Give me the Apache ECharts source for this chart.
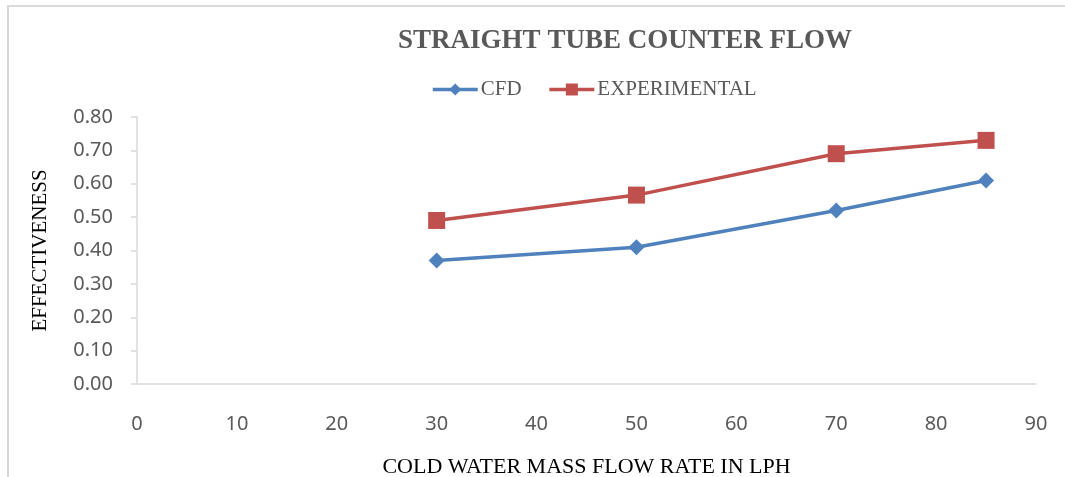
<!DOCTYPE html>
<html>
<head>
<meta charset="utf-8">
<title>Straight tube counter flow</title>
<script src="https://cdn.jsdelivr.net/npm/echarts@6/dist/echarts.min.js"></script>
<style>
  html, body { margin: 0; padding: 0; background: #fff; }
  #chart { width: 1065px; height: 477px; }
</style>
</head>
<body>
<div id="chart"></div>
<script>
// flow rate (LPH) on x, effectiveness on y
var flowRate = [30, 50, 70, 85]
var cfdValues = [0.37, 0.41, 0.52, 0.61]
var expValues = [0.49, 0.566, 0.69, 0.73]
var seriesNames = ['CFD', 'EXPERIMENTAL']

var chart = echarts.init(document.getElementById('chart'))

function pairs(xs, ys) {
  return xs.map(function (x, i) { return [x, ys[i]] })
}

var serif = '"Liberation Serif", "DejaVu Serif", serif'
var sans = '"Noto Sans", "Open Sans", sans-serif'

chart.setOption({
  animation: false,
  backgroundColor: '#fff',
  title: {
    text: 'STRAIGHT TUBE COUNTER FLOW',
    left: 620,
    top: 23,
    textAlign: 'center',
    textStyle: {
      fontFamily: serif,
      fontSize: 27,
      fontWeight: 'bold',
      color: '#595959'
    }
  },
  legend: {
    top: 74,
    left: 426,
    data: seriesNames,
    itemWidth: 45,
    itemHeight: 15,
    itemGap: 26,
    lineStyle: { width: 3.5 },
    textStyle: {
      fontFamily: serif,
      fontSize: 21,
      color: '#595959',
      padding: [0, 0, 0, -2]
    }
  },
  grid: {
    left: 137,
    right: 29,
    top: 117,
    bottom: 93,
    outerBoundsMode: 'none'
  },
  xAxis: {
    type: 'value',
    min: 0,
    max: 90,
    interval: 10,
    name: 'COLD WATER MASS FLOW RATE IN LPH',
    nameLocation: 'middle',
    nameGap: 72,
    nameTextStyle: {
      fontFamily: serif,
      fontSize: 22,
      color: '#000'
    },
    axisLine: { show: true, lineStyle: { color: '#D9D9D9', width: 1.5 } },
    axisTick: { show: false },
    splitLine: { show: false },
    axisLabel: {
      margin: 30,
      fontFamily: sans,
      fontSize: 20,
      color: '#595959'
    }
  },
  yAxis: {
    type: 'value',
    min: 0,
    max: 0.8,
    interval: 0.1,
    name: 'EFFECTIVENESS',
    nameLocation: 'middle',
    nameGap: 86,
    nameTextStyle: {
      fontFamily: serif,
      fontSize: 21,
      color: '#000'
    },
    axisLine: { show: true, lineStyle: { color: '#D9D9D9', width: 1.5 } },
    axisTick: { show: true, length: 6, lineStyle: { color: '#D9D9D9', width: 1.5 } },
    splitLine: { show: false },
    axisLabel: {
      margin: 24,
      fontFamily: sans,
      fontSize: 20,
      color: '#595959',
      formatter: function (v) { return v.toFixed(2) }
    }
  },
  graphic: [{
    type: 'rect',
    shape: { x: 8, y: 6, width: 1200, height: 600 },
    style: { fill: 'none', stroke: '#D9D9D9', lineWidth: 2 },
    silent: true,
    z: -10
  }],
  series: [
    {
      name: seriesNames[0],
      type: 'line',
      data: pairs(flowRate, cfdValues),
      symbol: 'diamond',
      symbolSize: 16,
      itemStyle: { color: '#4F81BD' },
      lineStyle: { color: '#4F81BD', width: 3.5 }
    },
    {
      name: seriesNames[1],
      type: 'line',
      data: pairs(flowRate, expValues),
      symbol: 'rect',
      symbolSize: 17,
      itemStyle: { color: '#C0504D' },
      lineStyle: { color: '#C0504D', width: 3.5 }
    }
  ]
})
</script>
</body>
</html>
